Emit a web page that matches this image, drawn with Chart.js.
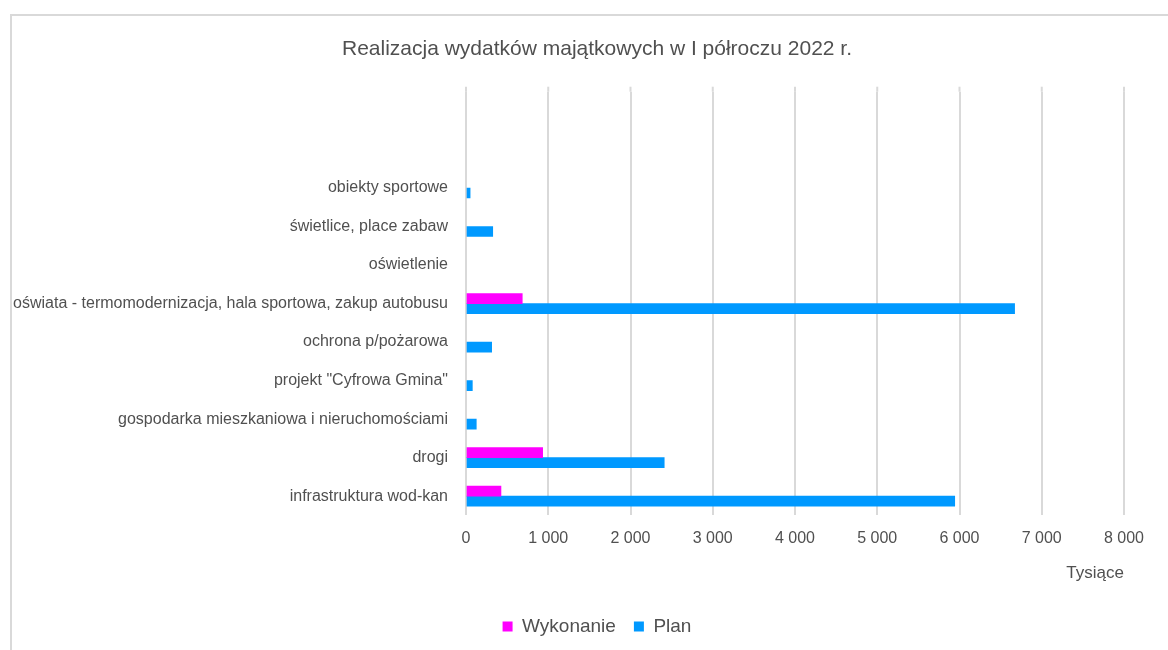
<!DOCTYPE html>
<html>
<head>
<meta charset="utf-8">
<script src="https://cdn.jsdelivr.net/npm/chart.js@4/dist/chart.umd.min.js"></script>
<style>
  html, body { margin: 0; padding: 0; background: #fff; }
  #wrap { position: relative; width: 1168px; height: 650px; overflow: hidden; }
  #frame { position: absolute; left: 10px; top: 14px; width: 1200px; height: 700px;
           border-left: 2px solid #d9d9d9; border-top: 2px solid #d9d9d9; box-sizing: border-box; }
  canvas { position: absolute; left: 0; top: 0; }
</style>
</head>
<body>
<div id="wrap">
  <div id="frame"></div>
  <canvas id="c" width="1168" height="650"></canvas>
</div>
<script>
const categories = [
  '', '',
  'obiekty sportowe',
  'świetlice, place zabaw',
  'oświetlenie',
  'oświata - termomodernizacja, hala sportowa, zakup autobusu',
  'ochrona p/pożarowa',
  'projekt "Cyfrowa Gmina"',
  'gospodarka mieszkaniowa i nieruchomościami',
  'drogi',
  'infrastruktura wod-kan'
];
const wykonanie = [null, null, null, null, null, 684, null, null, null, 932, 425];
const plan = [null, null, 50, 325, null, 6670, 312, 77, 125, 2410, 5942];
const xTicks = [0, 1000, 2000, 3000, 4000, 5000, 6000, 7000, 8000];

const FONT = "'Liberation Sans Narrow', 'Arial Narrow', 'Liberation Sans', sans-serif";
const TXT = '#505050';

function fmt(v) {
  return String(v).replace(/\B(?=(\d{3})+(?!\d))/g, ' ');
}

const shiftCentered = {
  id: 'shiftCentered',
  afterLayout(chart) {
    if (chart.titleBlock) chart.titleBlock.left += 70;
    if (chart.legend) chart.legend.left += 70;
  }
};

// extend vertical gridlines slightly above the plot area, as in the original
const gridExtend = {
  id: 'gridExtend',
  beforeDatasetsDraw(chart) {
    const x = chart.scales.x, ctx = chart.ctx, top = chart.chartArea.top;
    ctx.save();
    ctx.strokeStyle = '#d9d9d9';
    ctx.lineWidth = 2;
    x.ticks.forEach((t, i) => {
      const px = x.getPixelForTick(i);
      ctx.beginPath();
      ctx.moveTo(px, top - 5);
      ctx.lineTo(px, top);
      ctx.stroke();
    });
    ctx.restore();
  }
};

new Chart(document.getElementById('c'), {
  type: 'bar',
  data: {
    labels: categories,
    datasets: [
      { label: 'Wykonanie', data: wykonanie, backgroundColor: '#ff00ff', barThickness: 10 },
      { label: 'Plan', data: plan, backgroundColor: '#0099ff', barThickness: 10 }
    ]
  },
  plugins: [shiftCentered, gridExtend],
  options: {
    indexAxis: 'y',
    responsive: false,
    animation: false,
    layout: { padding: { left: 0, right: 44, top: 0, bottom: 4 } },
    plugins: {
      title: {
        display: true,
        text: 'Realizacja wydatków majątkowych w I półroczu 2022 r.',
        color: TXT,
        font: { family: FONT, size: 21, weight: 'normal' },
        padding: { top: 37, bottom: 29.5 }
      },
      legend: {
        position: 'bottom',
        labels: {
          color: TXT,
          boxWidth: 10, boxHeight: 10,
          font: { family: FONT, size: 19 },
          padding: 18
        }
      },
      tooltip: { enabled: false }
    },
    scales: {
      x: {
        min: 0, max: 8000,
        afterBuildTicks: (s) => { s.ticks = xTicks.map(v => ({ value: v })); },
        ticks: { color: TXT, font: { family: FONT, size: 16 }, padding: 14, callback: (v) => fmt(v) },
        grid: { color: '#d9d9d9', lineWidth: 2, drawTicks: false },
        border: { display: false },
        title: { display: true, text: 'Tysiące', align: 'end', color: TXT,
                 font: { family: FONT, size: 17 }, padding: { top: 1, bottom: 15 } }
      },
      y: {
        afterFit: (s) => { s.width = 466; },
        ticks: { color: TXT, font: { family: FONT, size: 16 }, padding: 10, autoSkip: false },
        grid: { display: false },
        border: { display: false }
      }
    }
  }
});
</script>
</body>
</html>
